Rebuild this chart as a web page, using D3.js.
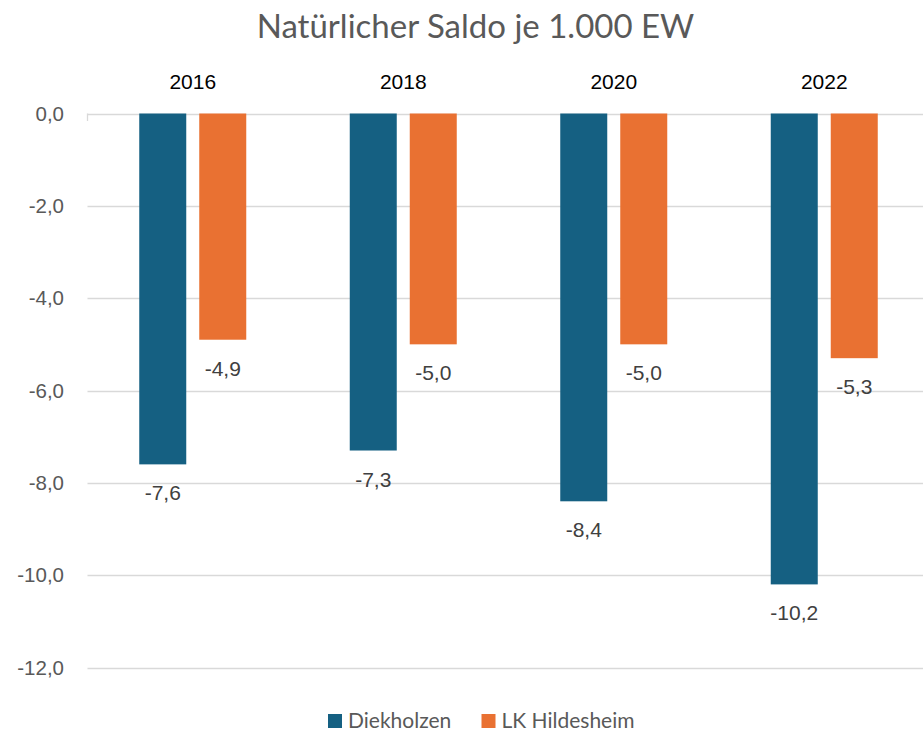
<!DOCTYPE html>
<html><head><meta charset="utf-8">
<script src="https://cdn.jsdelivr.net/npm/d3@7"></script>
<style>body{margin:0;background:#fff}svg{display:block}</style>
</head><body>
<svg id="c" width="923" height="731"></svg>
<script>
const years = ["2016", "2018", "2020", "2022"];
const seriesNames = ["Diekholzen", "LK Hildesheim"];
const diekholzen = [-7.6, -7.3, -8.4, -10.2];
const lkHildesheim = [-4.9, -5.0, -5.0, -5.3];
const yTicks = [0, -2, -4, -6, -8, -10, -12];
const colors = ["#156082", "#E97132"];
const title = "Natürlicher Saldo je 1.000 EW";

const svg = d3.select("#c");
const fmt = v => d3.format(".1f")(v).replace(".", ",").replace("−", "-");

const y = d3.scaleLinear().domain([0, -12]).range([113.5, 667.5]);
const x0 = d3.scaleBand().domain(years).range([87.5, 929.5]).padding(0);
const x1 = d3.scaleBand().domain(seriesNames).range([51.75, 158.75]).paddingInner(13 / 60).paddingOuter(0);

const data = years.map((yr, i) => ({ year: yr, vals: [diekholzen[i], lkHildesheim[i]] }));

// gridlines
svg.append("g").selectAll("line").data(yTicks).join("line")
  .attr("x1", 87.5).attr("x2", 923)
  .attr("y1", d => Math.round(y(d)) + 0.5).attr("y2", d => Math.round(y(d)) + 0.5)
  .attr("stroke", "#d9d9d9").attr("stroke-width", 1.3);
// small tick at origin
svg.append("line").attr("x1", 87.5).attr("x2", 87.5).attr("y1", 113.5).attr("y2", 121)
  .attr("stroke", "#d9d9d9").attr("stroke-width", 1.3);

// y labels
svg.append("g").selectAll("text").data(yTicks).join("text")
  .attr("x", 64).attr("y", d => y(d) + 7)
  .attr("text-anchor", "end")
  .attr("font-family", "Liberation Sans, Arial, sans-serif").attr("font-size", 20.5)
  .attr("fill", "#595959").text(d => fmt(d));

// category labels on top
svg.append("g").selectAll("text").data(years).join("text")
  .attr("x", d => x0(d) + x0.bandwidth() / 2).attr("y", 89)
  .attr("text-anchor", "middle")
  .attr("font-family", "Liberation Sans, Arial, sans-serif").attr("font-size", 21)
  .attr("fill", "#000").text(d => d);

// bars
const g = svg.append("g").selectAll("g").data(data).join("g")
  .attr("transform", d => `translate(${x0(d.year)},0)`);
g.selectAll("rect").data(d => d.vals.map((v, j) => ({ v, s: seriesNames[j], j }))).join("rect")
  .attr("x", d => x1(d.s)).attr("width", x1.bandwidth())
  .attr("y", y(0)).attr("height", d => y(d.v) - y(0))
  .attr("fill", d => colors[d.j]);
g.selectAll("text").data(d => d.vals.map((v, j) => ({ v, s: seriesNames[j], j }))).join("text")
  .attr("x", d => x1(d.s) + x1.bandwidth() / 2).attr("y", d => y(d.v) + 36)
  .attr("text-anchor", "middle")
  .attr("font-family", "Liberation Sans, Arial, sans-serif").attr("font-size", 21)
  .attr("fill", "#404040").text(d => fmt(d.v));

// title
svg.append("text").attr("x", 475.5).attr("y", 38).attr("text-anchor", "middle")
  .attr("font-family", "Lato, sans-serif").attr("font-size", 33)
  .attr("fill", "#595959").text(title);

// legend
const legX = [328, 481.5];
const lg = svg.append("g").selectAll("g").data(seriesNames).join("g")
  .attr("transform", (d, i) => `translate(${legX[i]},714)`);
lg.append("rect").attr("width", 14).attr("height", 14).attr("fill", (d, i) => colors[i]);
lg.append("text").attr("x", 20).attr("y", 13.5).attr("font-family", "Lato, sans-serif")
  .attr("font-size", 21).attr("fill", "#595959").text(d => d);
</script>
</body></html>
